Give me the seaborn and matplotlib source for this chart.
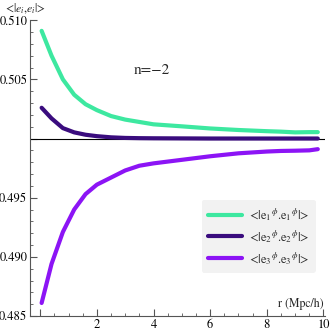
import matplotlib
matplotlib.use("Agg")
import matplotlib.pyplot as plt
import numpy as np
import pandas as pd
import seaborn as sns
from matplotlib.ticker import MultipleLocator

# values
r = [0.05, 0.4, 0.8, 1.2, 1.6, 2.0, 2.5, 3.0, 3.5, 4.0, 5.0, 6.0, 7.0, 8.0, 8.5, 9.0, 9.5, 9.8]
e1 = [0.5091, 0.5070, 0.5050, 0.5037, 0.5029, 0.5024, 0.5019, 0.5016, 0.5014, 0.5012,
      0.50103, 0.50085, 0.50072, 0.50062, 0.50058, 0.50052, 0.50054, 0.50054]
e2 = [0.5026, 0.5017, 0.50088, 0.50052, 0.50032, 0.5002, 0.5001, 0.50005, 0.50003, 0.50002,
      0.50001, 0.5, 0.5, 0.5, 0.5, 0.5, 0.5, 0.5]
e3 = [0.4861, 0.4894, 0.4921, 0.4940, 0.4953, 0.4961, 0.4967, 0.4973, 0.4977, 0.4979,
      0.4982, 0.4985, 0.49875, 0.4989, 0.49895, 0.49897, 0.4990, 0.4991]
names = [r"<|e$_1$$^\phi$.e$_1$$^\phi$|>",
         r"<|e$_2$$^\phi$.e$_2$$^\phi$|>",
         r"<|e$_3$$^\phi$.e$_3$$^\phi$|>"]
colors = ["#3de8a0", "#3a0c7e", "#8c14f5"]

df = pd.concat([pd.DataFrame({"r": r, "v": v, "s": n}) for v, n in zip([e1, e2, e3], names)])

sns.set_style("ticks")
plt.rcParams["font.family"] = ["STIXGeneral", "DejaVu Serif"]
plt.rcParams["mathtext.fontset"] = "stix"

fig = plt.figure(figsize=(3.32, 3.35), dpi=100)
ax = fig.add_axes([0.0904, 0.0567, 0.889, 0.883])

ax.axhline(0.5, color="black", lw=0.8, zorder=1)
sns.lineplot(data=df, x="r", y="v", hue="s", palette=colors, lw=3, ax=ax, zorder=2)

ax.set_xlim(-0.36, 10.06)
ax.set_ylim(0.485, 0.510)
ax.set_xticks([0, 2, 4, 6, 8, 10])
ax.set_xticklabels(["", "2", "4", "6", "8", "10"])
ax.xaxis.set_minor_locator(MultipleLocator(0.5))
ax.set_yticks([0.485, 0.490, 0.495, 0.500, 0.505, 0.510])
ax.set_yticklabels(["0.485", "0.490", "0.495", "", "0.505", "0.510"])
ax.yaxis.set_minor_locator(MultipleLocator(0.001))
ax.tick_params(which="both", direction="in", colors="#555555", labelcolor="black",
               labelsize=9, pad=2)
ax.tick_params(which="major", length=5, width=0.8)
ax.tick_params(which="minor", length=2.5, width=0.6)
for side in ["top", "right"]:
    ax.spines[side].set_visible(False)
for side in ["left", "bottom"]:
    ax.spines[side].set_color("#555555")
    ax.spines[side].set_linewidth(0.8)
ax.set_xlabel("")
ax.set_ylabel("")

ax.text(3.95, 0.5058, "n=\u22122", fontsize=11, ha="center", va="center")
fig.text(0.015, 0.975, r"<|$e_i$,$e_i$|>", fontsize=8.5, ha="left", va="center")
ax.text(10.0, 0.4855, "r (Mpc/h)", fontsize=8.5, ha="right", va="bottom")

leg = ax.legend(loc="lower right", bbox_to_anchor=(0.99, 0.125), frameon=True,
                fontsize=9, handlelength=2.7, handletextpad=0.6, labelspacing=0.4,
                borderpad=0.5, fancybox=True)
leg.get_frame().set_facecolor("#f2f2f2")
leg.get_frame().set_edgecolor("none")
leg.get_frame().set_alpha(1)
for h in leg.get_lines():
    h.set_linewidth(3)

fig.savefig("out.png", dpi=100)
